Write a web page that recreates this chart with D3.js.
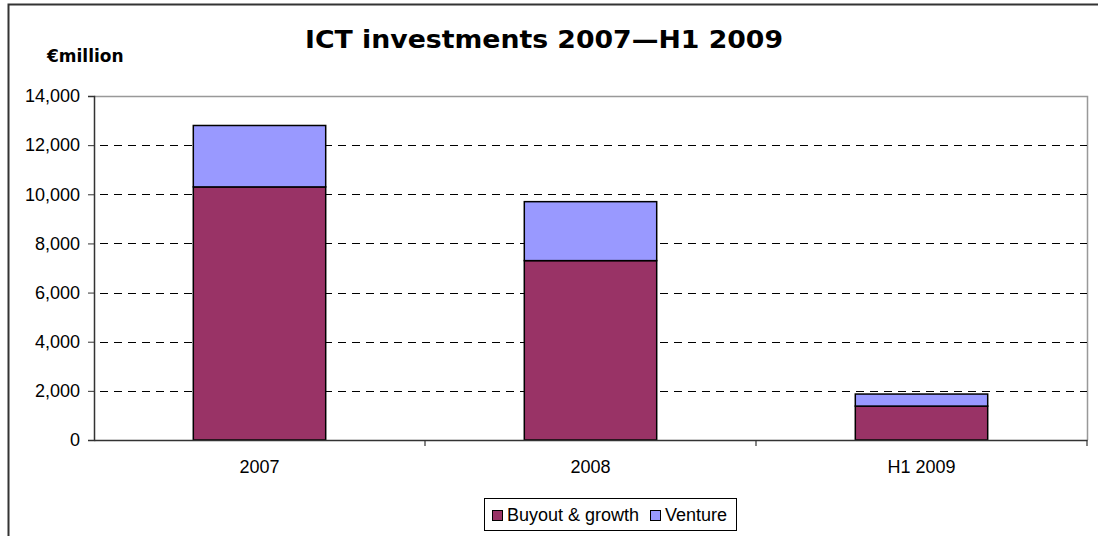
<!DOCTYPE html>
<html><head><meta charset="utf-8">
<script src="https://cdn.jsdelivr.net/npm/d3@7"></script>
<style>body{margin:0;background:#fff}svg{display:block}</style>
</head><body>
<svg id="c" width="1098" height="536"></svg>
<script>
const categories = ["2007", "2008", "H1 2009"];
const buyout = [10300, 7300, 1380];
const venture = [2500, 2400, 490];
const yTicks = [0, 2000, 4000, 6000, 8000, 10000, 12000, 14000];
const seriesNames = ["Buyout & growth", "Venture"];
const colors = ["#993366", "#9999FF"];

const svg = d3.select("#c");
const W = 1098, H = 536;
const m = {left: 94, top: 96, right: 1087, bottom: 440};
const FONT = "Liberation Sans, Arial, sans-serif";

// outer frame
svg.append("rect").attr("x", 8.5).attr("y", 4.5).attr("width", W + 10).attr("height", H + 10)
  .attr("fill", "#fff").attr("stroke", "#333").attr("stroke-width", 2);

const x = d3.scaleBand().domain(categories).range([m.left, m.right]).paddingInner(0).paddingOuter(0);
const y = d3.scaleLinear().domain([0, 14000]).range([m.bottom, m.top]);

// plot border (top/right)
svg.append("path").attr("d", `M${m.left},${m.top+0.5}H${m.right+0.5}V${m.bottom}`)
  .attr("fill", "none").attr("stroke", "#999").attr("stroke-width", 1.5);

// gridlines
svg.append("g").selectAll("line").data(yTicks.filter(d => d > 0 && d < 14000)).join("line")
  .attr("x1", m.left).attr("x2", m.right)
  .attr("y1", d => Math.round(y(d)) + 0.5).attr("y2", d => Math.round(y(d)) + 0.5)
  .attr("stroke", "#000").attr("stroke-dasharray", "8,6").attr("stroke-dashoffset", 8);

// stacked data
const rows = categories.map((c, i) => ({cat: c, buyout: buyout[i], venture: venture[i]}));
const stack = d3.stack().keys(["buyout", "venture"])(rows);
const bw = x.bandwidth() * 0.4;
svg.append("g").selectAll("g").data(stack).join("g")
  .attr("fill", (d, i) => colors[i])
  .selectAll("rect").data(d => d).join("rect")
  .attr("x", d => x(d.data.cat) + (x.bandwidth() - bw) / 2)
  .attr("width", bw)
  .attr("y", d => y(d[1]))
  .attr("height", d => y(d[0]) - y(d[1]))
  .attr("stroke", "#000").attr("stroke-width", 1.5);

// y axis
const ya = svg.append("g").attr("transform", `translate(${m.left},0)`)
  .call(d3.axisLeft(y).tickValues(yTicks).tickFormat(d3.format(",")).tickSizeOuter(0).tickSize(6).tickPadding(8));
ya.select(".domain").attr("stroke", "#333").attr("stroke-width", 1.5);
ya.selectAll(".tick line").attr("stroke", "#333");
ya.selectAll("text").attr("font-family", FONT).attr("font-size", 18).attr("fill", "#000");

// x axis
const xa = svg.append("g").attr("transform", `translate(0,${m.bottom})`)
  .call(d3.axisBottom(x).tickSize(0).tickPadding(20));
xa.select(".domain").attr("stroke", "#333").attr("stroke-width", 1.5);
xa.selectAll("text").attr("font-family", FONT).attr("font-size", 18).attr("fill", "#000");
// category boundary ticks
svg.append("g").selectAll("line").data(categories.slice(1).concat(["__end"])).join("line")
  .attr("x1", d => d === "__end" ? m.right : x(d)).attr("x2", d => d === "__end" ? m.right : x(d))
  .attr("y1", m.bottom).attr("y2", m.bottom + 6).attr("stroke", "#333").attr("stroke-width", 1.2);

// title
svg.append("text").attr("x", 544).attr("y", 48).attr("text-anchor", "middle")
  .attr("font-family", "DejaVu Sans, Verdana, sans-serif").attr("font-weight", "bold")
  .attr("font-size", 24).attr("textLength", 478).attr("lengthAdjust", "spacingAndGlyphs")
  .attr("fill", "#000").text("ICT investments 2007—H1 2009");

svg.append("text").attr("x", 47).attr("y", 62)
  .attr("font-family", "DejaVu Sans, Verdana, sans-serif").attr("font-weight", "bold")
  .attr("font-size", 17).attr("fill", "#000").text("€million");

// legend
const lg = svg.append("g");
lg.append("rect").attr("x", 484.5).attr("y", 498.5).attr("width", 252).attr("height", 32)
  .attr("fill", "#fff").attr("stroke", "#000");
const items = [{name: seriesNames[0], c: colors[0], x: 492}, {name: seriesNames[1], c: colors[1], x: 650}];
items.forEach(it => {
  lg.append("rect").attr("x", it.x + 0.5).attr("y", 510.5).attr("width", 10).attr("height", 10)
    .attr("fill", it.c).attr("stroke", "#000");
  lg.append("text").attr("x", it.x + 15).attr("y", 521)
    .attr("font-family", FONT).attr("font-size", 18).attr("fill", "#000").text(it.name);
});
</script>
</body></html>
